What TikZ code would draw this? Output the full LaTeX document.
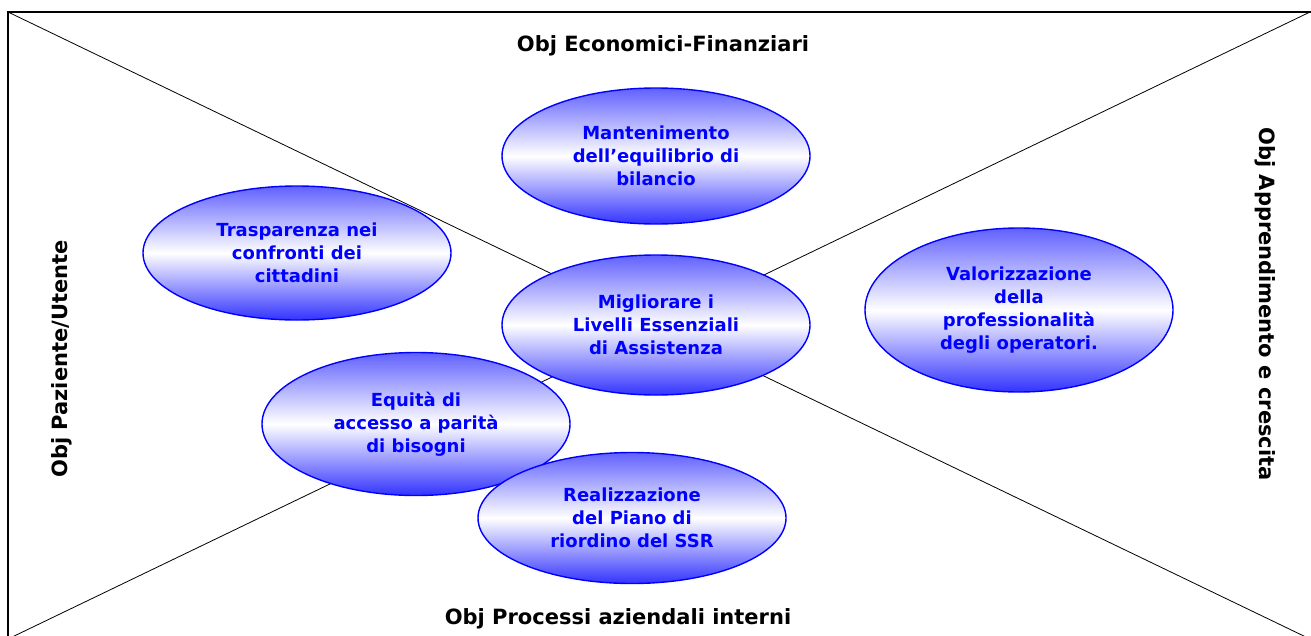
\documentclass[tikz,border=0pt]{standalone}
\usepackage{fontspec}
\setmainfont{DejaVu Sans}
\usetikzlibrary{shapes.geometric}
\begin{document}
\begin{tikzpicture}[x=1pt,y=-1pt,
  ell/.style={ellipse, draw=blue, line width=1.4pt, top color=blue!62, bottom color=blue!80, middle color=white,
    minimum width=308pt, minimum height=136pt, inner sep=0pt, align=center,
    font=\fontsize{18}{23}\selectfont\bfseries, text=blue},
  ttl/.style={font=\fontsize{21}{25}\selectfont\bfseries, text=black, inner sep=0pt, anchor=base},
  frame/.style={line width=2pt, draw=black},
  diag/.style={line width=0.8pt, draw=black}]
\useasboundingbox (0,0) rectangle (1311,635);
\coordinate (tl) at (8,12);
\coordinate (tr) at (1310,12);
\coordinate (bl) at (8,639);
\coordinate (fr) at (1313,640);
\coordinate (br) at (1310,639);
\begin{scope}
  \clip (0,0) rectangle (1311,635);
  \draw[frame] (tl) rectangle (fr);
  \draw[diag] (tl) -- (br);
  \draw[diag] (tr) -- (bl);
\end{scope}
\node[ttl] (teco) at (663,51) {Obj Economici-Finanziari};
\node[ttl] (tproc) at (618,624) {Obj Processi aziendali interni};
\node[ttl, rotate=90] (tpaz) at (67,359) {Obj Paziente/Utente};
\node[ttl, rotate=-90] (tapp) at (1259,304) {Obj Apprendimento e crescita};
\node[ell] (man) at (656,156) {Mantenimento\\dell’equilibrio di\\bilancio};
\node[ell, minimum height=134pt] (tra) at (297,253) {Trasparenza nei\\confronti dei\\cittadini};
\node[ell, minimum height=140pt] (mig) at (656,325) {Migliorare i\\Livelli Essenziali\\di Assistenza};
\node[ell, minimum height=164pt] (val) at (1019,310) {Valorizzazione\\della\\professionalità\\degli operatori.};
\node[ell, minimum height=143pt] (equ) at (416,424) {Equità di\\accesso a parità\\di bisogni};
\node[ell, minimum height=131pt] (rea) at (632,518) {Realizzazione\\del Piano di\\riordino del SSR};
\end{tikzpicture}
\end{document}
